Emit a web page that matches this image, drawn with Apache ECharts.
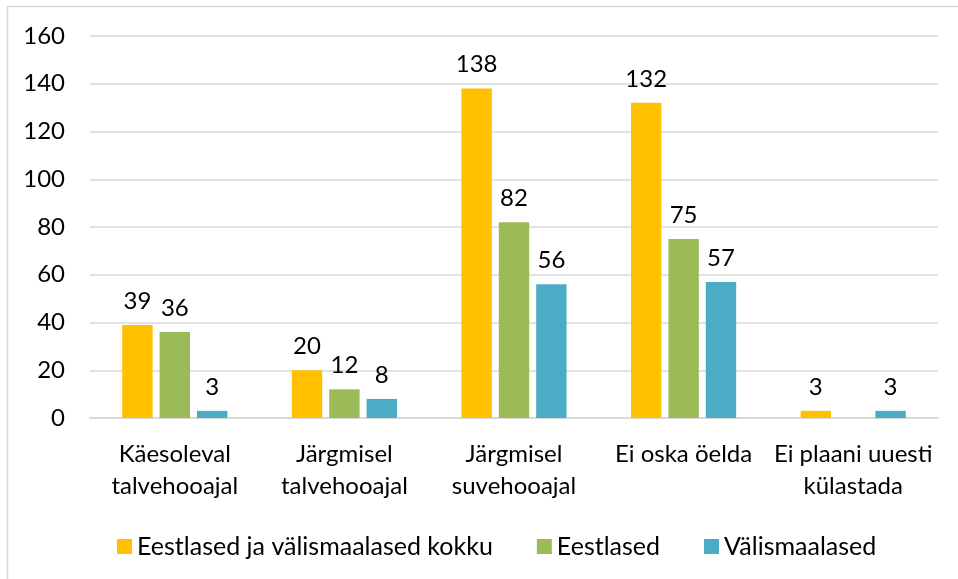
<!DOCTYPE html>
<html>
<head>
<meta charset="utf-8">
<script src="https://cdn.jsdelivr.net/npm/echarts@6/dist/echarts.min.js"></script>
<style>
  html, body { margin: 0; padding: 0; background: #fff; }
  #chart { width: 958px; height: 579px; }
</style>
</head>
<body>
<div id="chart"></div>
<script>
// kategooriad ja andmed
var categories = [
  "Käesoleval\ntalvehooajal",
  "Järgmisel\ntalvehooajal",
  "Järgmisel\nsuvehooajal",
  "Ei oska öelda",
  "Ei plaani uuesti\nkülastada"
];
var seriesNames = ["Eestlased ja välismaalased kokku", "Eestlased", "Välismaalased"];
var kokku = [39, 20, 138, 132, 3];
var eestlased = [36, 12, 82, 75, "-"];
var valismaalased = [3, 8, 56, 57, 3];
var yTicks = [0, 20, 40, 60, 80, 100, 120, 140, 160];

var colors = ["#FFC000", "#9BBB59", "#4BACC6"];
var font = "Lato, 'Open Sans', sans-serif";
var fs = 24;

var chart = echarts.init(document.getElementById("chart"));

function makeSeries(name, data) {
  return {
    name: name,
    type: "bar",
    data: data,
    barGap: "23%",
    barCategoryGap: "38%",
    label: {
      show: true,
      position: "top",
      distance: 12,
      color: "#000",
      fontSize: fs,
      fontFamily: font
    }
  };
}

chart.setOption({
  animation: false,
  color: colors,
  textStyle: { fontFamily: font },
  graphic: [
    {
      type: "polyline",
      shape: { points: [[7.5, 579], [7.5, 6.5], [958, 6.5]] },
      style: { stroke: "#d9d9d9", lineWidth: 1.5, fill: null }
    }
  ],
  grid: { left: 90, right: 20, top: 36, bottom: 161 },
  legend: {
    top: 529,
    left: 112,
    itemWidth: 15,
    itemHeight: 15,
    itemGap: 44,
    icon: "rect",
    textStyle: { fontSize: 25, color: "#000", fontFamily: font },
    data: seriesNames
  },
  xAxis: {
    type: "category",
    data: categories,
    axisLine: { lineStyle: { color: "#d9d9d9", width: 2 } },
    axisTick: { show: false },
    axisLabel: {
      interval: 0,
      color: "#000",
      fontSize: fs,
      lineHeight: 32,
      margin: 20,
      fontFamily: font
    }
  },
  yAxis: {
    type: "value",
    min: yTicks[0],
    max: yTicks[yTicks.length - 1],
    interval: 20,
    axisLine: { show: false },
    axisTick: { show: false },
    splitLine: { lineStyle: { color: "#d9d9d9", width: 1.5 } },
    axisLabel: { color: "#000", fontSize: fs, margin: 25, fontFamily: font }
  },
  series: [
    makeSeries(seriesNames[0], kokku),
    makeSeries(seriesNames[1], eestlased),
    makeSeries(seriesNames[2], valismaalased)
  ]
});
</script>
</body>
</html>
